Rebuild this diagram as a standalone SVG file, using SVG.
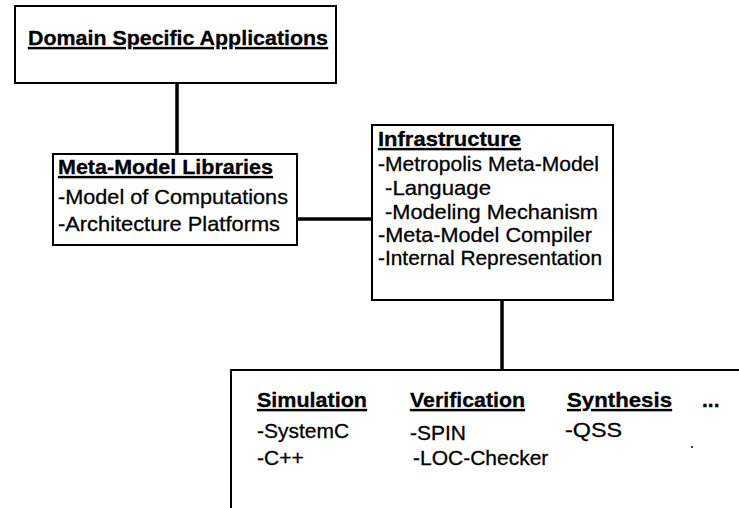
<svg xmlns="http://www.w3.org/2000/svg" width="739" height="508" viewBox="0 0 739 508">
  <style>
    .box { fill: #ffffff; stroke: #000000; stroke-width: 2; }
    .wire { fill: none; stroke: #000000; stroke-width: 3.5; }
    text { font-family: "Liberation Sans", Arial, Helvetica, sans-serif; font-size: 21px; fill: #000000; stroke: #000000; stroke-width: 0.3; }
    .head { font-weight: bold; text-decoration: underline; }
  </style>
  <rect width="739" height="508" fill="#ffffff"/>

  <!-- connectors -->
  <g id="connectors">
    <line class="wire" x1="177" y1="83" x2="177" y2="154"/>
    <line class="wire" x1="297" y1="219" x2="372" y2="219"/>
    <line class="wire" x1="502" y1="300" x2="502" y2="370"/>
  </g>

  <g id="domain-apps">
    <rect class="box" x="15" y="6" width="321" height="77"/>
    <text class="head" x="28" y="45" textLength="300" lengthAdjust="spacingAndGlyphs">Domain Specific Applications</text>
  </g>

  <g id="metamodel-libraries">
    <rect class="box" x="53" y="154" width="244" height="91"/>
    <text class="head" x="58" y="174" textLength="215" lengthAdjust="spacingAndGlyphs">Meta-Model Libraries</text>
    <text x="58" y="204" textLength="230" lengthAdjust="spacingAndGlyphs">-Model of Computations</text>
    <text x="58" y="231" textLength="222" lengthAdjust="spacingAndGlyphs">-Architecture Platforms</text>
  </g>

  <g id="infrastructure">
    <rect class="box" x="372" y="125" width="241" height="175"/>
    <text class="head" x="378" y="146" textLength="143" lengthAdjust="spacingAndGlyphs">Infrastructure</text>
    <text x="378" y="171" textLength="221" lengthAdjust="spacingAndGlyphs">-Metropolis Meta-Model</text>
    <text x="385" y="195" textLength="106" lengthAdjust="spacingAndGlyphs">-Language</text>
    <text x="385" y="219" textLength="213" lengthAdjust="spacingAndGlyphs">-Modeling Mechanism</text>
    <text x="378" y="242" textLength="214" lengthAdjust="spacingAndGlyphs">-Meta-Model Compiler</text>
    <text x="378" y="265" textLength="224" lengthAdjust="spacingAndGlyphs">-Internal Representation</text>
  </g>

  <g id="tools">
    <path class="box" d="M739 370 H231 V508"/>
    <text class="head" x="257" y="407" textLength="110" lengthAdjust="spacingAndGlyphs">Simulation</text>
    <text x="257" y="438">-SystemC</text>
    <text x="257" y="465">-C++</text>
    <text class="head" x="410" y="407" textLength="115" lengthAdjust="spacingAndGlyphs">Verification</text>
    <text x="410" y="440">-SPIN</text>
    <text x="413" y="465">-LOC-Checker</text>
    <text class="head" x="567" y="407" textLength="105" lengthAdjust="spacingAndGlyphs">Synthesis</text>
    <text x="565" y="437" textLength="57" lengthAdjust="spacingAndGlyphs">-QSS</text>
    <text x="702" y="407" font-weight="bold">...</text>
    <circle cx="692" cy="447" r="1" fill="#000000"/>
  </g>
</svg>
